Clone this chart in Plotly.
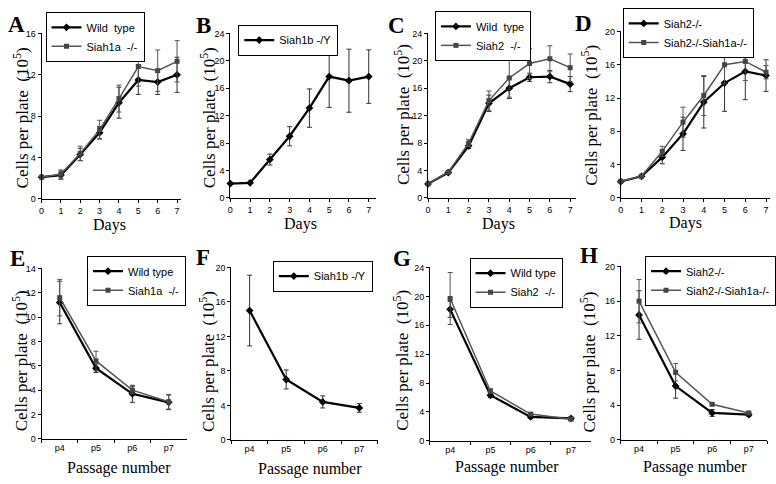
import plotly.graph_objects as go

W, H = 776, 484

days = [0, 1, 2, 3, 4, 5, 6, 7]
passages = ["p4", "p5", "p6", "p7"]

# Panel A
a_wt = [2.1, 2.3, 4.3, 6.4, 9.3, 11.5, 11.3, 12.0]
a_wt_err = [0.1, 0.4, 0.6, 0.6, 1.5, 1.4, 1.2, 1.7]
a_s1a = [2.1, 2.4, 4.4, 6.7, 9.7, 12.8, 12.4, 13.3]
a_s1a_err = [0.1, 0.4, 0.7, 0.9, 1.3, 1.9, 2.0, 2.0]
# Panel B
b_s1b = [2.1, 2.2, 5.6, 9.0, 13.1, 17.7, 17.1, 17.7]
b_s1b_err = [0.1, 0.1, 0.8, 1.4, 2.8, 4.5, 4.6, 3.9]
# Panel C
c_wt = [2.05, 3.7, 7.6, 13.8, 16.0, 17.6, 17.7, 16.6]
c_wt_err = [0.1, 0.1, 0.4, 1.2, 1.5, 0.6, 0.9, 1.1]
c_s2 = [2.05, 3.75, 8.0, 14.2, 17.5, 19.6, 20.3, 19.0]
c_s2_err = [0.1, 0.1, 0.5, 1.4, 2.8, 2.2, 1.9, 2.0]
# Panel D
d_s2 = [1.97, 2.6, 4.9, 7.7, 11.5, 13.8, 15.2, 14.7]
d_s2_err = [0.1, 0.2, 0.8, 2.0, 3.1, 3.4, 3.4, 1.9]
d_dko = [2.0, 2.6, 5.6, 9.1, 12.3, 16.0, 16.4, 15.1]
d_dko_err = [0.1, 0.2, 0.6, 1.8, 2.4, 2.3, 2.3, 0.8]
# Panel E
e_wt = [11.2, 5.8, 3.7, 3.0]
e_wt_err = [1.75, 0.35, 0.7, 0.6]
e_s1a = [11.6, 6.4, 4.0, 3.05]
e_s1a_err = [1.5, 0.8, 0.3, 0.6]
# Panel F
f_s1b = [15.0, 7.0, 4.4, 3.7]
f_s1b_err = [4.1, 1.1, 0.7, 0.5]
# Panel G
g_wt = [18.2, 6.3, 3.3, 3.1]
g_wt_err = [1.1, 0.3, 0.2, 0.2]
g_s2 = [19.7, 6.9, 3.7, 3.0]
g_s2_err = [3.6, 0.3, 0.2, 0.2]
# Panel H
h_s2 = [14.4, 6.2, 3.1, 2.9]
h_s2_err = [2.8, 1.4, 0.4, 0.2]
h_dko = [16.0, 7.8, 4.1, 3.1]
h_dko_err = [2.5, 1.0, 0.1, 0.1]

SERIF = "Liberation Serif"
SANS = "Liberation Sans"


def px(x):
    return x / W


def py(y):
    return 1 - y / H


panels = [
    dict(letter="A", x=days, series=[("Wild  type", a_wt, a_wt_err, "wt"), ("Siah1a  -/-", a_s1a, a_s1a_err, "mut")],
         xd=(39, 180), yd=(29, 198), xr=[0, 7.2], ymax=16, dt=4, leg=(43, 7), lp=(3, 5), yt=(18, 115), xt=(108, 225)),
    dict(letter="B", x=days, series=[("Siah1b -/Y", b_s1b, b_s1b_err, "wt")],
         xd=(230, 377), yd=(29, 197), xr=[0, 7.35], ymax=24, dt=4, leg=(238, 20), lp=(193, 6), yt=(207, 115), xt=(301, 224)),
    dict(letter="C", x=days, series=[("Wild  type", c_wt, c_wt_err, "wt"), ("Siah2  -/-", c_s2, c_s2_err, "mut")],
         xd=(430, 580), yd=(29, 197), xr=[0, 7.3], ymax=24, dt=4, leg=(437, 6), lp=(387, 6), yt=(403, 112), xt=(501, 224)),
    dict(letter="D", x=days, series=[("Siah2-/-", d_s2, d_s2_err, "wt"), ("Siah2-/-Siah1a-/-", d_dko, d_dko_err, "mut")],
         xd=(625, 776), yd=(27, 197), xr=[0, 7.19], ymax=20, dt=4, leg=(627, 3), lp=(577, 4), yt=(593, 113), xt=(691, 223)),
    dict(letter="E", x=passages, series=[("Wild type", e_wt, e_wt_err, "wt"), ("Siah1a  -/-", e_s1a, e_s1a_err, "mut")],
         xd=(39, 186), yd=(269, 443), xr=[-0.5, 3.5], ymax=14, dt=2, leg=(85, 256), lp=(5, 244), yt=(17, 363), xt=(117, 473)),
    dict(letter="F", x=passages, series=[("Siah1b -/Y", f_s1b, f_s1b_err, "wt")],
         xd=(231, 379), yd=(268, 444), xr=[-0.5, 3.5], ymax=20, dt=4, leg=(273, 261), lp=(193, 243), yt=(207, 364), xt=(311, 474)),
    dict(letter="G", x=passages, series=[("Wild type", g_wt, g_wt_err, "wt"), ("Siah2  -/-", g_s2, g_s2_err, "mut")],
         xd=(432, 595), yd=(268, 445), xr=[-0.5, 3.5], ymax=24, dt=4, leg=(472, 258), lp=(393, 244), yt=(402, 363), xt=(510, 472)),
    dict(letter="H", x=passages, series=[("Siah2-/-", h_s2, h_s2_err, "wt"), ("Siah2-/-Siah1a-/-", h_dko, h_dko_err, "mut")],
         xd=(625, 773), yd=(267, 444), xr=[-0.5, 3.5], ymax=20, dt=4, leg=(650, 256), lp=(582, 241), yt=(592, 365), xt=(700, 472)),
]

fig = go.Figure()
layout = dict(width=W, height=H, margin=dict(l=0, r=0, t=0, b=0),
              paper_bgcolor="white", plot_bgcolor="white", showlegend=True)
annotations = []

for i, p in enumerate(panels):
    n = "" if i == 0 else str(i + 1)
    xa, ya = "x" + n, "y" + n
    leg = "legend" + n
    for name, vals, err, kind in p["series"]:
        if kind == "wt":
            line = dict(color="black", width=2.2)
            marker = dict(symbol="diamond", size=6, color="black")
            ecol = "#333333"
        else:
            line = dict(color="#555555", width=1.5)
            marker = dict(symbol="square", size=5, color="#444444")
            ecol = "#555555"
        fig.add_trace(go.Scatter(
            x=p["x"], y=vals, name=name, mode="lines+markers",
            line=line, marker=marker,
            error_y=dict(type="data", array=err, visible=True, color=ecol, thickness=1, width=2.5),
            xaxis=xa, yaxis=ya, legend=leg, cliponaxis=False))
    common = dict(showline=True, linecolor="black", linewidth=1, showgrid=False, zeroline=False,
                  ticks="outside", ticklen=3, tickcolor="black", tickwidth=1,
                  tickfont=dict(family=SANS, size=9, color="black"))
    if p["letter"] in "ABCD":
        xaxis = dict(common, domain=[px(p["xd"][0]), px(p["xd"][1])], range=p["xr"],
                     tickmode="linear", tick0=0, dtick=1, anchor=ya)
    else:
        xaxis = dict(common, domain=[px(p["xd"][0]), px(p["xd"][1])], range=p["xr"],
                     type="category", tickson="boundaries", anchor=ya,
                     categoryorder="array", categoryarray=passages)
    yaxis = dict(common, domain=[py(p["yd"][1]), py(p["yd"][0])], range=[0, p["ymax"]],
                 tickmode="linear", tick0=0, dtick=p["dt"], anchor=xa)
    layout["xaxis" + n] = xaxis
    layout["yaxis" + n] = yaxis
    layout[leg] = dict(x=px(p["leg"][0]), y=py(p["leg"][1]), xanchor="left", yanchor="top",
                       xref="paper", yref="paper",
                       bgcolor="white", bordercolor="black", borderwidth=1,
                       font=dict(family=SANS, size=11, color="black"),
                       itemwidth=30, tracegroupgap=0, traceorder="normal")
    annotations.append(dict(text="<b>%s</b>" % p["letter"], x=px(p["lp"][0]), y=py(p["lp"][1]),
                            xref="paper", yref="paper", xanchor="left", yanchor="top", showarrow=False,
                            font=dict(family=SERIF, size=23, color="black")))
    annotations.append(dict(text="Cells per plate  (10<sup>5</sup>)", x=px(p["yt"][0]), y=py(p["yt"][1]),
                            xref="paper", yref="paper", xanchor="center", yanchor="middle", showarrow=False,
                            textangle=-90, font=dict(family=SERIF, size=17, color="black")))
    xtitle = "Days" if p["letter"] in "ABCD" else "Passage number"
    annotations.append(dict(text=xtitle, x=px(p["xt"][0]), y=py(p["xt"][1]),
                            xref="paper", yref="paper", xanchor="center", yanchor="middle", showarrow=False,
                            font=dict(family=SERIF, size=16, color="black")))

layout["annotations"] = annotations
fig.update_layout(**layout)
fig.write_html("out.html", config={"displayModeBar": False},
               post_script="document.body.style.margin='0';document.body.style.overflow='hidden';")
